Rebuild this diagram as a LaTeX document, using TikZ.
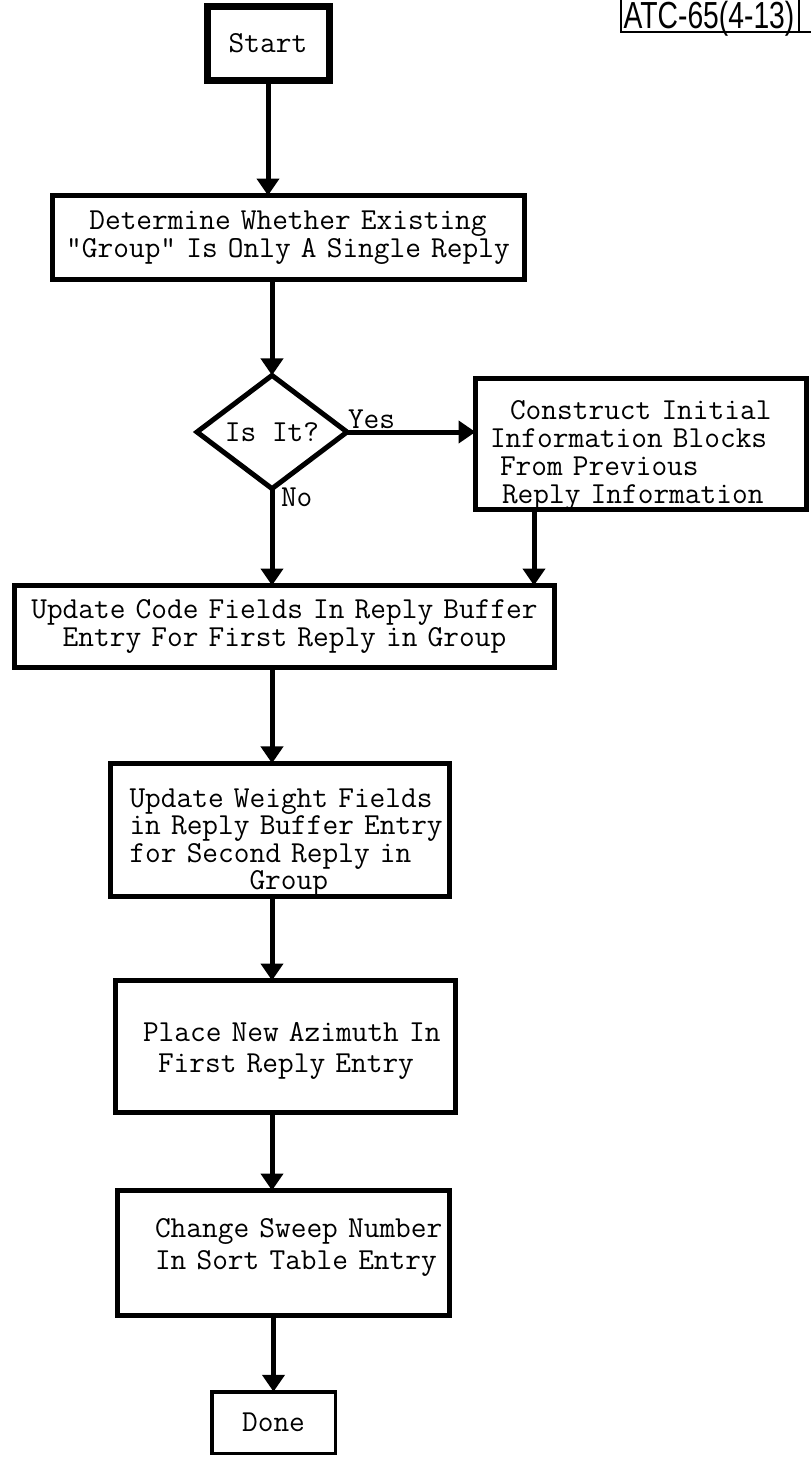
\documentclass[tikz,border=0pt]{standalone}
\usepackage{fontspec}
\usepackage{graphicx}
\usetikzlibrary{arrows.meta,shapes.geometric,calc}
\newfontfamily\atcfont{Liberation Sans}
\newcommand{\twfont}[1]{\ttfamily\fontsize{30.5}{#1}\selectfont}
\begin{document}
\begin{tikzpicture}[x=1pt,y=-1pt,
  box/.style={draw, line width=5pt, rectangle, inner sep=0pt, outer sep=0pt, align=left, font=\twfont{27.5}},
  conn/.style={line width=5pt, -{Triangle[width=22pt,length=17pt]}},
  lbl/.style={font=\twfont{26}, inner sep=0pt, outer sep=0pt}
]
\useasboundingbox (0,0) rectangle (811,1457);

% stamp
\node[inner sep=0pt, anchor=base, font=\atcfont\fontsize{37.7}{40}\selectfont] (atc) at (709,28) {\scalebox{0.75}[1]{ATC-65(4-13)}};
\draw[line width=2pt] (621,0) -- (621,32) -- (811,32);
\draw[line width=2.5pt] (799,0) -- (799,31);

\coordinate (axis) at (272,0);

\node[box, line width=7pt, minimum width=122pt, minimum height=74pt, align=center] (start) at (268,43) {Start};

\node[box, text width=472pt, minimum height=84pt, align=center, font=\twfont{27.5}] (det) at (288,237.5)
  {Determine Whether Existing\\"Group" Is Only A Single Reply};

\node[draw, diamond, line width=5pt, minimum width=150pt, minimum height=92pt, inner sep=0pt, outer sep=0pt, font=\twfont{26}] (isit) at (272,432) {Is It?};

\node[box, text width=330.5pt, minimum height=129pt, text height=41pt, font=\twfont{28}] (cons) at (640.75,444)
  {\hspace*{34.5pt}Construct Initial\\\hspace*{14.5pt}Information Blocks\\\hspace*{24.5pt}From Previous\\\hspace*{26.5pt}Reply Information};

\node[box, text width=540pt, minimum height=82pt, align=center, font=\twfont{27.5}] (upd) at (284.5,626.5)
  {Update Code Fields In Reply Buffer\\Entry For First Reply in Group};

\node[box, text width=339pt, minimum height=129pt, text height=44pt, font=\twfont{27.5}] (wt) at (280,830)
  {\hspace*{19pt}Update Weight Fields\\\hspace*{19pt}in Reply Buffer Entry\\\hspace*{19pt}for Second Reply in\\\hspace*{139pt}Group};

\node[box, text width=340pt, minimum height=132pt, text height=27pt, font=\twfont{31}] (place) at (285.5,1046.5)
  {\hspace*{27.5pt}Place New Azimuth In\\\hspace*{42.5pt}First Reply Entry};

\node[box, text width=332pt, minimum height=125pt, text depth=50pt, font=\twfont{32}] (chg) at (283.5,1253)
  {\hspace*{37.5pt}Change Sweep Number\\\hspace*{37.5pt}In Sort Table Entry};

\node[box, line width=3.5pt, minimum width=123.5pt, minimum height=61.5pt, align=center] (done) at (273.5,1422.5) {Done};

% labels
\node[lbl, anchor=south west] (yes) at (348,429) {Yes};
\node[lbl, anchor=west] (no) at (281,497) {No};

% connectors
\draw[conn] (start.south) -- (start.south |- det.north);
\draw[conn] (isit.north |- det.south) -- (isit.north);
\draw[conn] (isit.east) -- (isit.east -| cons.west);
\draw[conn] (isit.south) -- (isit.south |- upd.north);
\coordinate (c1) at ([xshift=58.5pt]cons.south west);
\draw[conn] (c1) -- (c1 |- upd.north);
\draw[conn] (axis |- upd.south) -- (axis |- wt.north);
\draw[conn] (axis |- wt.south) -- (axis |- place.north);
\draw[conn] (axis |- place.south) -- (axis |- chg.north);
\draw[conn] (done.north |- chg.south) -- (done.north);
\end{tikzpicture}
\end{document}
